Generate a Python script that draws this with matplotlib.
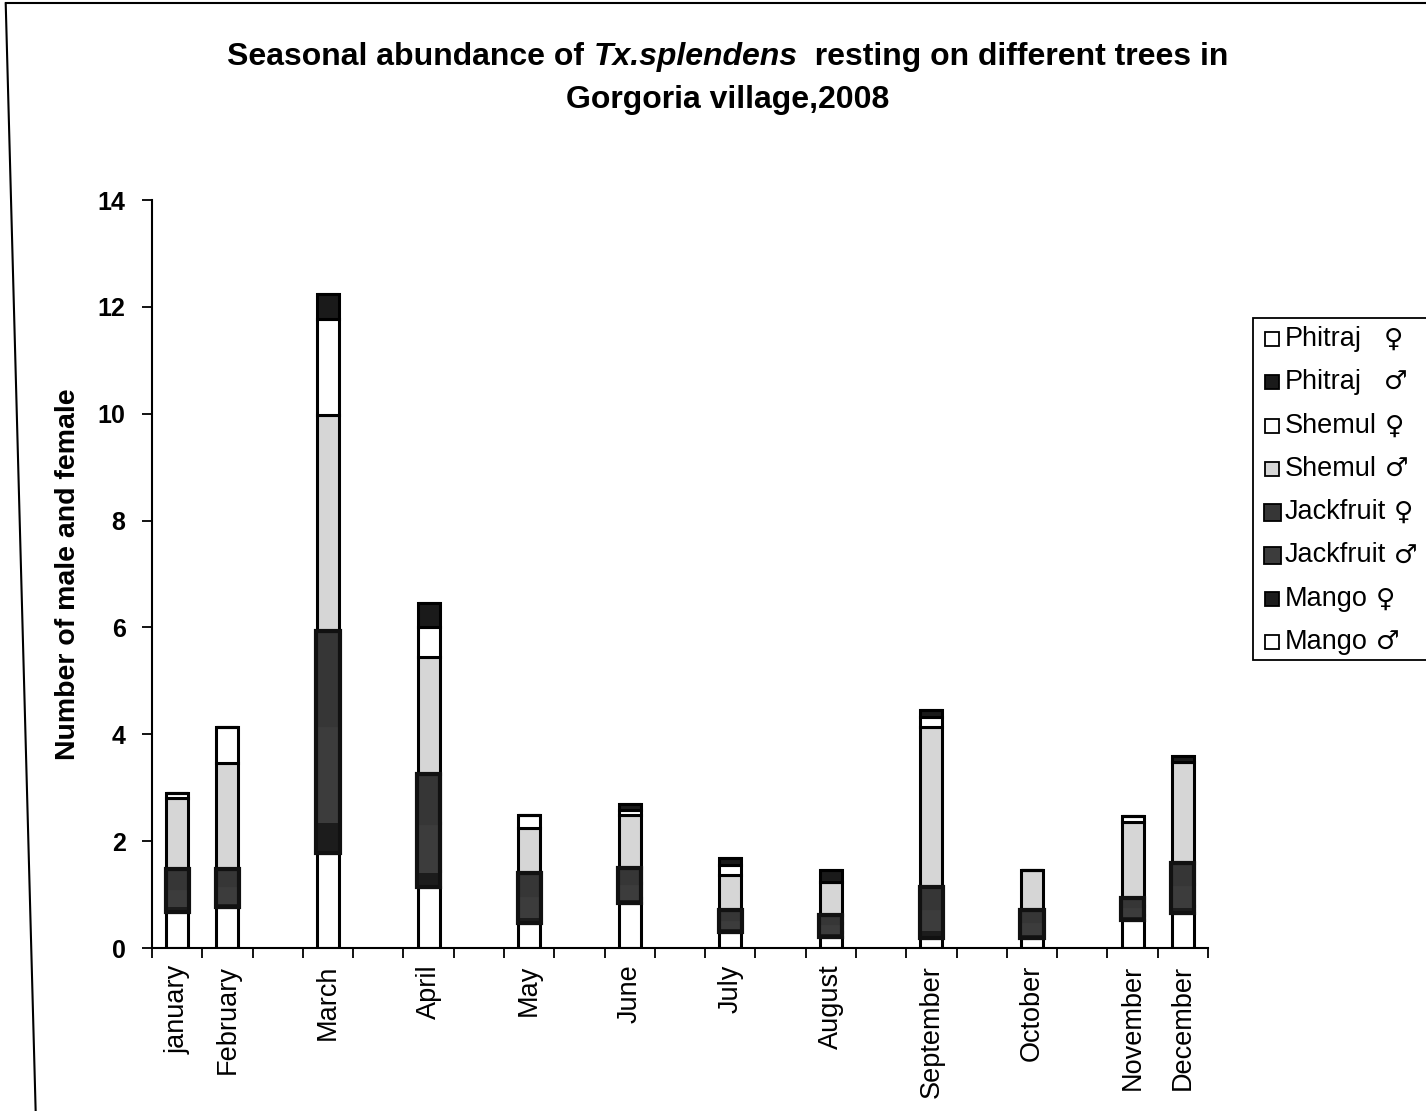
import numpy as np
import matplotlib.pyplot as plt
from matplotlib.lines import Line2D
from matplotlib.patches import Rectangle

plt.rcParams['font.family'] = ['Liberation Sans', 'DejaVu Sans']

months = ['january', 'February', 'March', 'April', 'May', 'June', 'July',
          'August', 'September', 'October', 'November', 'December']

# mean numbers per tree (bottom -> top)
mango_m   = [0.67, 0.77, 1.78, 1.14, 0.47, 0.84, 0.30, 0.20, 0.19, 0.19, 0.52, 0.66]
mango_f   = [0.13, 0.10, 0.60, 0.30, 0.13, 0.10, 0.10, 0.10, 0.16, 0.10, 0.10, 0.13]
jack_m    = [0.33, 0.30, 1.80, 0.90, 0.40, 0.28, 0.15, 0.16, 0.40, 0.21, 0.16, 0.40]
jack_f    = [0.34, 0.30, 1.75, 0.92, 0.40, 0.28, 0.16, 0.16, 0.40, 0.21, 0.16, 0.40]
shemul_m  = [1.33, 2.00, 4.05, 2.19, 0.85, 0.99, 0.66, 0.62, 2.99, 0.75, 1.42, 1.89]
shemul_f  = [0.10, 0.66, 1.80, 0.56, 0.24, 0.10, 0.18, 0.00, 0.19, 0.00, 0.11, 0.00]
phitraj_m = [0.00, 0.00, 0.47, 0.45, 0.00, 0.10, 0.14, 0.22, 0.13, 0.00, 0.00, 0.12]
phitraj_f = [0.00, 0.00, 0.00, 0.00, 0.00, 0.00, 0.00, 0.00, 0.00, 0.00, 0.00, 0.00]

M, F = '\u2642', '\u2640'
# (tree, sex, values, face, edge)
series = [
    ('Mango', M, mango_m, 'white', 'black'),
    ('Mango', F, mango_f, '#1c1c1c', '#1c1c1c'),
    ('Jackfruit', M, jack_m, '#3c3c3c', '#3c3c3c'),
    ('Jackfruit', F, jack_f, '#363636', '#363636'),
    ('Shemul', M, shemul_m, '#d6d6d6', 'black'),
    ('Shemul', F, shemul_f, 'white', 'black'),
    ('Phitraj', M, phitraj_m, '#1a1a1a', 'black'),
    ('Phitraj', F, phitraj_f, 'white', 'black'),
]

# category slots on the x axis (21 slots, months sit in some of them)
slot = [0, 1, 3, 5, 7, 9, 11, 13, 15, 17, 19, 20]
nslots = 21
W, H = 1426, 1111

fig = plt.figure(figsize=(W/100, H/100), dpi=100)
ax = fig.add_axes([152/W, 1-948/H, 1056/W, 748/H])

bottom = np.zeros(len(months))
for tree, sex, vals, col, ec in series:
    v = np.array(vals)
    ax.bar(slot, v, width=0.44, bottom=bottom, color=col, edgecolor=ec,
           linewidth=2.2)
    bottom += v

# heavy outline round the dark (mango female + jackfruit) block
dark = np.array(mango_f) + np.array(jack_m) + np.array(jack_f)
ax.bar(slot, dark, width=0.46, bottom=mango_m, fill=False, edgecolor='#111111',
       linewidth=3.0)

ax.set_xlim(-0.5, nslots - 0.5)
ax.set_ylim(0, 14)
ax.set_yticks(np.arange(0, 15, 2))
ax.set_yticklabels([str(t) for t in range(0, 15, 2)], fontsize=18, fontweight='bold')
ax.set_xticks(slot)
ax.set_xticklabels(months, rotation=90, fontsize=19.5)
ax.set_xticks(np.arange(-0.5, nslots, 1), minor=True)
ax.tick_params(axis='x', which='major', length=0, pad=12)
ax.tick_params(axis='x', which='minor', length=7, width=1.3, direction='out')
ax.tick_params(axis='y', length=7, width=1.3, pad=12)

for s in ['top', 'right']:
    ax.spines[s].set_visible(False)
for s in ['left', 'bottom']:
    ax.spines[s].set_linewidth(1.5)

ax.set_ylabel('Number of male and female', fontsize=20.5, fontweight='bold', labelpad=12)

# legend drawn by hand (Excel order: top of the stack first)
fig.add_artist(Rectangle((1253/W, 1-660/H), 200/W, 342/H, transform=fig.transFigure,
                         facecolor='white', edgecolor='black', lw=1.3, zorder=4))
fig.canvas.draw()
r = fig.canvas.get_renderer()
for i, (tree, sex, vals, col, ec) in enumerate(series[::-1]):
    yc = 339 + 43.3 * i
    sq = 17 if tree == 'Jackfruit' else 14
    fig.add_artist(Rectangle((1272/W - sq/2/W, 1-(yc + sq/2)/H), sq/W, sq/H,
                             transform=fig.transFigure, facecolor=col,
                             edgecolor='black', lw=1.3, zorder=5))
    t = fig.text(1285/W, 1-yc/H, tree, fontsize=19.5, va='center', ha='left',
                 zorder=6)
    w = t.get_window_extent(r).width
    gap = 22 if tree == 'Phitraj' else 8
    fig.text((1285 + w + gap)/W, 1-(yc + 1)/H, sex, fontsize=19,
             family='DejaVu Sans', va='center', ha='left', zorder=6)

# title with the italic species name
parts = [('Seasonal abundance of ', 'normal'), ('Tx.splendens', 'italic'),
         ('  resting on different trees in', 'normal')]
txts = []
for s, st in parts:
    txts.append(fig.text(0, 1-57/H, s, fontsize=23, fontweight='bold',
                         style=st, va='center', ha='left'))
widths = [t.get_window_extent(r).width for t in txts]
x0 = 728 - sum(widths) / 2
for t, w in zip(txts, widths):
    t.set_x(x0 / W)
    x0 += w
fig.text(728/W, 1-100/H, 'Gorgoria village,2008', fontsize=23,
         fontweight='bold', ha='center', va='center')

# outer chart border
fig.add_artist(Line2D([0.004, 0.025], [0.997, 0.0], color='black', lw=1.5,
                      transform=fig.transFigure))
fig.add_artist(Line2D([0.004, 1.0], [0.997, 0.997], color='black', lw=1.5,
                      transform=fig.transFigure))

fig.savefig('out.png', dpi=100)
